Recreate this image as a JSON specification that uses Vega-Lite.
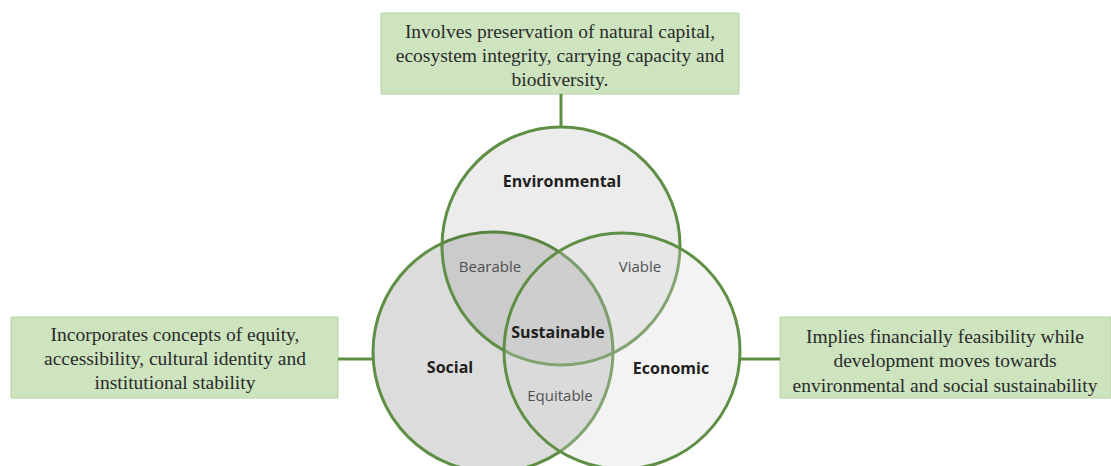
{
  "$schema": "https://vega.github.io/schema/vega-lite/v6.json",
  "width": 1111,
  "height": 466,
  "autosize": {"type": "none"},
  "padding": 0,
  "background": "white",
  "config": {"view": {"stroke": null}},
  "datasets": {
    "boxes": [
      {"box": "Environmental", "x": 381, "x2": 739, "y": 13, "y2": 94},
      {"box": "Social", "x": 11, "x2": 338, "y": 317, "y2": 398},
      {"box": "Economic", "x": 780, "x2": 1111, "y": 317, "y2": 398}
    ],
    "links": [
      {"link": "Environmental", "x": 561, "x2": 561, "y": 94, "y2": 128},
      {"link": "Social", "x": 338, "x2": 374, "y": 359, "y2": 359},
      {"link": "Economic", "x": 740, "x2": 780, "y": 359, "y2": 359}
    ],
    "circles": [
      {"name": "Social", "x": 493, "y": 352, "r": 120},
      {"name": "Environmental", "x": 561, "y": 246, "r": 119},
      {"name": "Economic", "x": 622, "y": 351, "r": 118}
    ],
    "labels": [
      {"text": "Involves preservation of natural capital,", "x": 560, "y": 32, "kind": "box"},
      {"text": "ecosystem integrity, carrying capacity and", "x": 560, "y": 56, "kind": "box"},
      {"text": "biodiversity.", "x": 560, "y": 80, "kind": "box"},
      {"text": "Incorporates concepts of equity,", "x": 175, "y": 335, "kind": "box"},
      {"text": "accessibility, cultural identity and", "x": 175, "y": 359, "kind": "box"},
      {"text": "institutional stability", "x": 175, "y": 383, "kind": "box"},
      {"text": "Implies financially feasibility while", "x": 945, "y": 337, "kind": "box"},
      {"text": "development moves towards", "x": 945, "y": 361, "kind": "box"},
      {"text": "environmental and social sustainability", "x": 945, "y": 386, "kind": "box"},
      {"text": "Environmental", "x": 562, "y": 182, "kind": "main"},
      {"text": "Social", "x": 450, "y": 368, "kind": "main"},
      {"text": "Economic", "x": 671, "y": 369, "kind": "main"},
      {"text": "Sustainable", "x": 558, "y": 333, "kind": "main"},
      {"text": "Bearable", "x": 490, "y": 267, "kind": "minor"},
      {"text": "Viable", "x": 640, "y": 267, "kind": "minor"},
      {"text": "Equitable", "x": 560, "y": 396, "kind": "minor"}
    ]
  },
  "layer": [
    {
      "data": {"name": "boxes"},
      "mark": {"type": "rect", "fill": "#cde4bf", "stroke": "#b3d49f", "strokeWidth": 1},
      "encoding": {
        "x": {"field": "x", "type": "quantitative", "scale": {"domain": [0, 1111], "nice": false, "zero": false}, "axis": null},
        "x2": {"field": "x2"},
        "y": {"field": "y", "type": "quantitative", "scale": {"domain": [466, 0], "nice": false, "zero": false}, "axis": null},
        "y2": {"field": "y2"}
      }
    },
    {
      "data": {"name": "links"},
      "mark": {"type": "rule", "stroke": "#5f8f45", "strokeWidth": 3},
      "encoding": {
        "x": {"field": "x", "type": "quantitative", "axis": null},
        "x2": {"field": "x2"},
        "y": {"field": "y", "type": "quantitative", "axis": null},
        "y2": {"field": "y2"}
      }
    },
    {
      "data": {"name": "circles"},
      "transform": [{"filter": "datum.name === 'Social'"}],
      "mark": {"type": "point", "shape": "circle", "filled": true, "opacity": 1, "fill": "#dcdcdc", "fillOpacity": 1, "stroke": "#5f8f45", "strokeWidth": 3, "strokeOpacity": 1},
      "encoding": {
        "x": {"field": "x", "type": "quantitative", "axis": null},
        "y": {"field": "y", "type": "quantitative", "axis": null},
        "size": {"field": "r", "type": "quantitative", "legend": null, "scale": {"type": "pow", "exponent": 2, "domain": [0, 100], "range": [0, 40000]}}
      }
    },
    {
      "data": {"name": "circles"},
      "transform": [{"filter": "datum.name === 'Environmental'"}],
      "mark": {"type": "point", "shape": "circle", "filled": true, "opacity": 1, "fill": "#000000", "fillOpacity": 0.075, "stroke": "#5f8f45", "strokeWidth": 3, "strokeOpacity": 1},
      "encoding": {
        "x": {"field": "x", "type": "quantitative", "axis": null},
        "y": {"field": "y", "type": "quantitative", "axis": null},
        "size": {"field": "r", "type": "quantitative", "legend": null, "scale": {"type": "pow", "exponent": 2, "domain": [0, 100], "range": [0, 40000]}}
      }
    },
    {
      "data": {"name": "circles"},
      "transform": [{"filter": "datum.name === 'Economic'"}],
      "mark": {"type": "point", "shape": "circle", "filled": true, "opacity": 1, "fill": "#d8d8d8", "fillOpacity": 0.3, "stroke": "#5f8f45", "strokeWidth": 3, "strokeOpacity": 1},
      "encoding": {
        "x": {"field": "x", "type": "quantitative", "axis": null},
        "y": {"field": "y", "type": "quantitative", "axis": null},
        "size": {"field": "r", "type": "quantitative", "legend": null, "scale": {"type": "pow", "exponent": 2, "domain": [0, 100], "range": [0, 40000]}}
      }
    },
    {
      "data": {"name": "labels"},
      "transform": [{"filter": "datum.kind === 'box'"}],
      "mark": {"type": "text", "font": "Liberation Serif", "fontSize": 19.5, "color": "#2b2b2b", "align": "center", "baseline": "middle"},
      "encoding": {
        "x": {"field": "x", "type": "quantitative", "axis": null},
        "y": {"field": "y", "type": "quantitative", "axis": null},
        "text": {"field": "text"}
      }
    },
    {
      "data": {"name": "labels"},
      "transform": [{"filter": "datum.kind === 'main'"}],
      "mark": {"type": "text", "font": "Open Sans", "fontSize": 16, "fontWeight": "bold", "color": "#1e1e1e", "align": "center", "baseline": "middle"},
      "encoding": {
        "x": {"field": "x", "type": "quantitative", "axis": null},
        "y": {"field": "y", "type": "quantitative", "axis": null},
        "text": {"field": "text"}
      }
    },
    {
      "data": {"name": "labels"},
      "transform": [{"filter": "datum.kind === 'minor'"}],
      "mark": {"type": "text", "font": "Open Sans", "fontSize": 15, "color": "#505050", "align": "center", "baseline": "middle"},
      "encoding": {
        "x": {"field": "x", "type": "quantitative", "axis": null},
        "y": {"field": "y", "type": "quantitative", "axis": null},
        "text": {"field": "text"}
      }
    }
  ]
}
